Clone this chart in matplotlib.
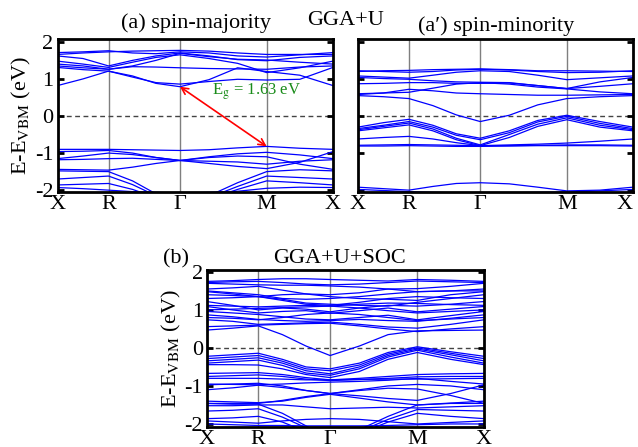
import matplotlib
matplotlib.use("Agg")
import matplotlib.pyplot as plt
import numpy as np

plt.rcParams['font.family'] = ['Liberation Serif', 'DejaVu Serif']
plt.rcParams['mathtext.fontset'] = 'stix'
plt.rcParams['axes.unicode_minus'] = False

# high-symmetry path
kpath_labels = ["X", "R", "\u0393", "M", "X"]
kpath_ticks = [0.0, 1.0, 2.4, 4.1, 5.4]
# sampled k positions along the path
kpts = [0.0, 0.5, 1.0, 1.47, 1.93, 2.4, 2.97, 3.53, 4.1, 4.75, 5.4]

# ---- (a) spin-majority, GGA+U ----
maj_cond = [
    [0.82, 1.00, 1.21, 1.08, 0.88, 0.79, 0.98, 1.30, 1.20, 1.10, 0.82],
    [1.31, 1.25, 1.21, 1.05, 0.90, 0.86, 0.93, 0.99, 0.97, 0.99, 1.31],
    [1.35, 1.30, 1.26, 1.33, 1.32, 1.30, 1.28, 1.27, 1.26, 1.32, 1.35],
    [1.48, 1.40, 1.31, 1.45, 1.58, 1.65, 1.55, 1.42, 1.17, 1.30, 1.48],
    [1.62, 1.55, 1.35, 1.50, 1.62, 1.70, 1.62, 1.52, 1.49, 1.58, 1.62],
    [1.71, 1.73, 1.76, 1.70, 1.68, 1.73, 1.70, 1.62, 1.59, 1.65, 1.71],
    [1.66, 1.70, 1.73, 1.75, 1.76, 1.77, 1.75, 1.70, 1.66, 1.66, 1.66],
    [1.40, 1.35, 1.26, 1.35, 1.50, 1.69, 1.60, 1.53, 1.51, 1.45, 1.40],
]
maj_val = [
    [-0.90, -0.90, -0.90, -0.91, -0.92, -0.93, -0.91, -0.86, -0.82, -0.87, -0.90],
    [-0.96, -0.95, -0.93, -1.00, -1.12, -1.20, -1.28, -1.36, -1.42, -1.25, -0.96],
    [-1.15, -1.08, -1.00, -1.04, -1.12, -1.20, -1.10, -1.02, -0.98, -1.05, -1.15],
    [-1.18, -1.17, -1.15, -1.14, -1.17, -1.20, -1.22, -1.24, -1.30, -1.22, -1.18],
    [-1.44, -1.45, -1.46, -1.38, -1.28, -1.20, -1.12, -1.08, -1.10, -1.30, -1.44],
    [-1.48, -1.49, -1.50, -1.75, -2.10, -2.40, -2.15, -1.80, -1.50, -1.45, -1.48],
    [-1.70, -1.66, -1.62, -1.85, -2.15, -2.40, -2.20, -1.90, -1.62, -1.66, -1.70],
    [-1.86, -1.84, -1.82, -1.98, -2.20, -2.40, -2.25, -1.98, -1.75, -1.80, -1.86],
    [-1.93, -1.96, -2.00, -2.04, -2.06, -2.08, -2.06, -2.03, -1.95, -1.92, -1.93],
]

# ---- (a') spin-minority, GGA+U ----
min_cond = [
    [0.55, 0.52, 0.47, 0.28, 0.03, -0.15, 0.02, 0.30, 0.47, 0.52, 0.55],
    [0.58, 0.62, 0.72, 0.68, 0.62, 0.60, 0.58, 0.56, 0.56, 0.57, 0.58],
    [0.60, 0.62, 0.64, 0.75, 0.86, 0.90, 0.86, 0.78, 0.73, 0.65, 0.60],
    [0.87, 0.88, 0.90, 0.90, 0.88, 0.88, 0.89, 0.82, 0.74, 0.80, 0.87],
    [1.04, 1.01, 0.99, 0.95, 0.92, 0.91, 0.90, 0.82, 0.74, 0.92, 1.04],
    [1.08, 1.05, 1.02, 1.10, 1.18, 1.22, 1.20, 1.10, 0.98, 1.03, 1.08],
    [1.20, 1.22, 1.23, 1.25, 1.26, 1.27, 1.25, 1.22, 1.22, 1.21, 1.20],
    [1.22, 1.20, 1.18, 1.20, 1.24, 1.26, 1.24, 1.20, 1.17, 1.18, 1.22],
]
min_val = [
    [-0.30, -0.18, -0.09, -0.25, -0.48, -0.60, -0.40, -0.12, 0.02, -0.15, -0.30],
    [-0.34, -0.25, -0.15, -0.30, -0.52, -0.64, -0.45, -0.16, -0.01, -0.20, -0.34],
    [-0.37, -0.28, -0.19, -0.35, -0.60, -0.78, -0.50, -0.22, -0.05, -0.25, -0.37],
    [-0.40, -0.32, -0.24, -0.40, -0.64, -0.80, -0.58, -0.28, -0.10, -0.30, -0.40],
    [-0.62, -0.58, -0.55, -0.62, -0.72, -0.80, -0.78, -0.76, -0.73, -0.68, -0.62],
    [-0.79, -0.78, -0.77, -0.78, -0.79, -0.80, -0.80, -0.79, -0.78, -0.78, -0.79],
    [-0.81, -0.81, -0.80, -0.81, -0.82, -0.82, -0.81, -0.80, -0.80, -0.80, -0.81],
    [-1.92, -1.96, -2.00, -1.90, -1.82, -1.80, -1.83, -1.92, -2.02, -2.00, -1.92],
    [-1.98, -2.01, -2.04, -2.06, -2.07, -2.08, -2.07, -2.06, -2.05, -2.02, -1.98],
]

# ---- (b) GGA+U+SOC ----
soc_cond = [
    [0.47, 0.52, 0.58, 0.35, 0.05, -0.20, 0.05, 0.35, 0.45, 0.46, 0.47],
    [0.56, 0.58, 0.60, 0.62, 0.64, 0.65, 0.58, 0.50, 0.43, 0.50, 0.56],
    [0.74, 0.70, 0.62, 0.64, 0.66, 0.68, 0.62, 0.55, 0.52, 0.62, 0.74],
    [0.87, 0.82, 0.75, 0.72, 0.70, 0.72, 0.75, 0.72, 0.70, 0.78, 0.87],
    [0.96, 0.92, 0.88, 0.82, 0.76, 0.74, 0.80, 0.86, 0.74, 0.85, 0.96],
    [1.09, 1.00, 0.92, 0.96, 0.98, 0.91, 0.98, 1.05, 0.95, 1.02, 1.09],
    [1.22, 1.12, 1.00, 1.05, 1.02, 0.95, 1.05, 1.12, 1.10, 1.15, 1.22],
    [1.12, 1.10, 1.08, 1.10, 1.12, 1.10, 1.15, 1.18, 1.17, 1.14, 1.12],
    [1.40, 1.38, 1.35, 1.28, 1.18, 1.15, 1.12, 1.10, 1.20, 1.30, 1.40],
    [1.48, 1.42, 1.35, 1.40, 1.42, 1.35, 1.30, 1.28, 1.25, 1.40, 1.48],
    [1.55, 1.58, 1.62, 1.52, 1.42, 1.40, 1.45, 1.55, 1.48, 1.50, 1.55],
    [1.70, 1.68, 1.66, 1.65, 1.65, 1.63, 1.60, 1.55, 1.56, 1.62, 1.70],
    [1.72, 1.74, 1.75, 1.72, 1.68, 1.66, 1.68, 1.72, 1.76, 1.74, 1.72],
    [1.75, 1.77, 1.80, 1.82, 1.82, 1.80, 1.78, 1.76, 1.80, 1.78, 1.75],
    [1.50, 1.45, 1.40, 1.30, 1.28, 1.30, 1.35, 1.42, 1.48, 1.50, 1.50],
    [0.80, 0.78, 0.74, 0.80, 0.88, 0.92, 0.88, 0.80, 0.72, 0.76, 0.80],
    [1.00, 1.02, 1.04, 1.06, 1.08, 1.10, 1.05, 0.98, 0.92, 0.96, 1.00],
    [1.30, 1.32, 1.35, 1.25, 1.15, 1.12, 1.20, 1.30, 1.35, 1.32, 1.30],
]
soc_val = [
    [-0.22, -0.18, -0.14, -0.30, -0.50, -0.55, -0.40, -0.12, 0.03, -0.10, -0.22],
    [-0.28, -0.24, -0.20, -0.35, -0.55, -0.60, -0.45, -0.16, 0.00, -0.14, -0.28],
    [-0.34, -0.30, -0.26, -0.40, -0.60, -0.68, -0.50, -0.20, -0.03, -0.18, -0.34],
    [-0.40, -0.36, -0.32, -0.46, -0.66, -0.72, -0.55, -0.24, -0.06, -0.24, -0.40],
    [-0.44, -0.44, -0.45, -0.55, -0.70, -0.78, -0.62, -0.30, -0.12, -0.30, -0.44],
    [-0.67, -0.66, -0.65, -0.70, -0.78, -0.84, -0.80, -0.75, -0.70, -0.68, -0.67],
    [-0.75, -0.73, -0.71, -0.75, -0.82, -0.86, -0.83, -0.80, -0.76, -0.75, -0.75],
    [-0.80, -0.80, -0.80, -0.82, -0.84, -0.84, -0.83, -0.82, -0.82, -0.81, -0.80],
    [-0.95, -0.96, -0.97, -0.95, -0.92, -0.90, -0.88, -0.85, -0.80, -0.88, -0.95],
    [-0.97, -0.95, -0.93, -1.00, -1.12, -1.20, -1.26, -1.33, -1.38, -1.20, -0.97],
    [-1.10, -1.05, -0.98, -1.04, -1.12, -1.20, -1.10, -1.00, -0.96, -1.00, -1.10],
    [-1.46, -1.46, -1.46, -1.38, -1.28, -1.20, -1.12, -1.06, -1.08, -1.25, -1.46],
    [-1.46, -1.48, -1.48, -1.72, -2.05, -2.40, -2.15, -1.80, -1.50, -1.46, -1.46],
    [-1.66, -1.64, -1.60, -1.82, -2.10, -2.40, -2.20, -1.88, -1.62, -1.64, -1.66],
    [-1.86, -1.84, -1.80, -1.95, -2.20, -2.40, -2.25, -1.95, -1.72, -1.80, -1.86],
    [-1.92, -1.95, -1.98, -1.92, -1.88, -1.86, -1.88, -1.94, -2.00, -1.96, -1.92],
    [-2.00, -2.02, -2.04, -2.04, -2.05, -2.05, -2.05, -2.04, -2.02, -2.00, -2.00],
    [-1.40, -1.42, -1.44, -1.40, -1.30, -1.22, -1.32, -1.42, -1.50, -1.45, -1.40],
    [-1.52, -1.52, -1.50, -1.50, -1.55, -1.60, -1.58, -1.56, -1.58, -1.55, -1.52],
]

gap_label = "E$_{\\rm g}$ = 1.63 eV"
yticks = [-2, -1, 0, 1, 2]

W, H = 638, 447
fig = plt.figure(figsize=(W / 100, H / 100), dpi=100)


def add_ax(l, t, r, b):
    return fig.add_axes([l / W, 1 - b / H, (r - l) / W, (b - t) / H])


def style(ax, ylim, show_ylabels=True):
    ax.set_xlim(kpath_ticks[0], kpath_ticks[-1])
    ax.set_ylim(*ylim)
    for kx in kpath_ticks[1:-1]:
        ax.axvline(kx, color='#7f7f7f', lw=1.0, zorder=1)
    ax.axhline(0, color='#444444', lw=1.0, ls=(0, (3.5, 2.5)), zorder=1)
    ax.set_xticks(kpath_ticks)
    ax.set_xticklabels(kpath_labels, fontsize=16)
    ax.tick_params(axis='x', length=0, pad=2)
    ax.set_yticks(yticks)
    ax.tick_params(axis='y', direction='in', length=4, width=2,
                   left=True, right=True, labelsize=16, pad=3)
    if not show_ylabels:
        ax.set_yticklabels([])
    for s in ax.spines.values():
        s.set_linewidth(2.0)


def draw_bands(ax, sets):
    for bands in sets:
        for b in bands:
            ax.plot(kpts, b, color='#0000ff', lw=0.9, zorder=2)


axa = add_ax(57.5, 38.5, 333, 192)
draw_bands(axa, [maj_cond, maj_val])
style(axa, (-2.05, 2.09))
axa.set_ylabel("E-E$_{\\rm VBM}$ (eV)", fontsize=16)
axa.yaxis.set_label_coords(-0.089, 0.5)

# gap arrow (CBM at Gamma -> VBM at M)
cbm = min(b[kpts.index(kpath_ticks[2])] for b in maj_cond)
vbm = max(b[kpts.index(kpath_ticks[3])] for b in maj_val)
axa.annotate('', xy=(kpath_ticks[3], vbm), xytext=(kpath_ticks[2], cbm),
             arrowprops=dict(arrowstyle='<->', color='#ff0000', lw=1.2,
                             shrinkA=0, shrinkB=0, mutation_scale=12),
             zorder=4)
axa.text(0.562, 0.655, gap_label, transform=axa.transAxes, color='#1a8c1a',
         fontsize=12, ha='left', va='center')

axm = add_ax(358, 38.5, 633, 192)
draw_bands(axm, [min_cond, min_val])
style(axm, (-2.05, 2.09), show_ylabels=False)
last = axm.get_xticklabels()[-1]
last.set_horizontalalignment('right')
last.set_x(kpath_ticks[-1])

axb = add_ax(207, 270, 484, 427)
draw_bands(axb, [soc_cond, soc_val])
style(axb, (-2.08, 2.05))
axb.set_ylabel("E-E$_{\\rm VBM}$ (eV)", fontsize=16)
axb.yaxis.set_label_coords(-0.087, 0.5)

fig.text(196 / W, 1 - 28 / H, "(a) spin-majority", fontsize=16, ha='center', va='baseline')
fig.text(346 / W, 1 - 25 / H, "GGA+U", fontsize=16, ha='center', va='baseline')
fig.text(496 / W, 1 - 31 / H, "(a\u2032) spin-minority", fontsize=16, ha='center', va='baseline')
fig.text(163 / W, 1 - 263 / H, "(b)", fontsize=16, ha='left', va='baseline')
fig.text(340 / W, 1 - 263 / H, "GGA+U+SOC", fontsize=16, ha='center', va='baseline')

fig.savefig("out.png", dpi=100)
